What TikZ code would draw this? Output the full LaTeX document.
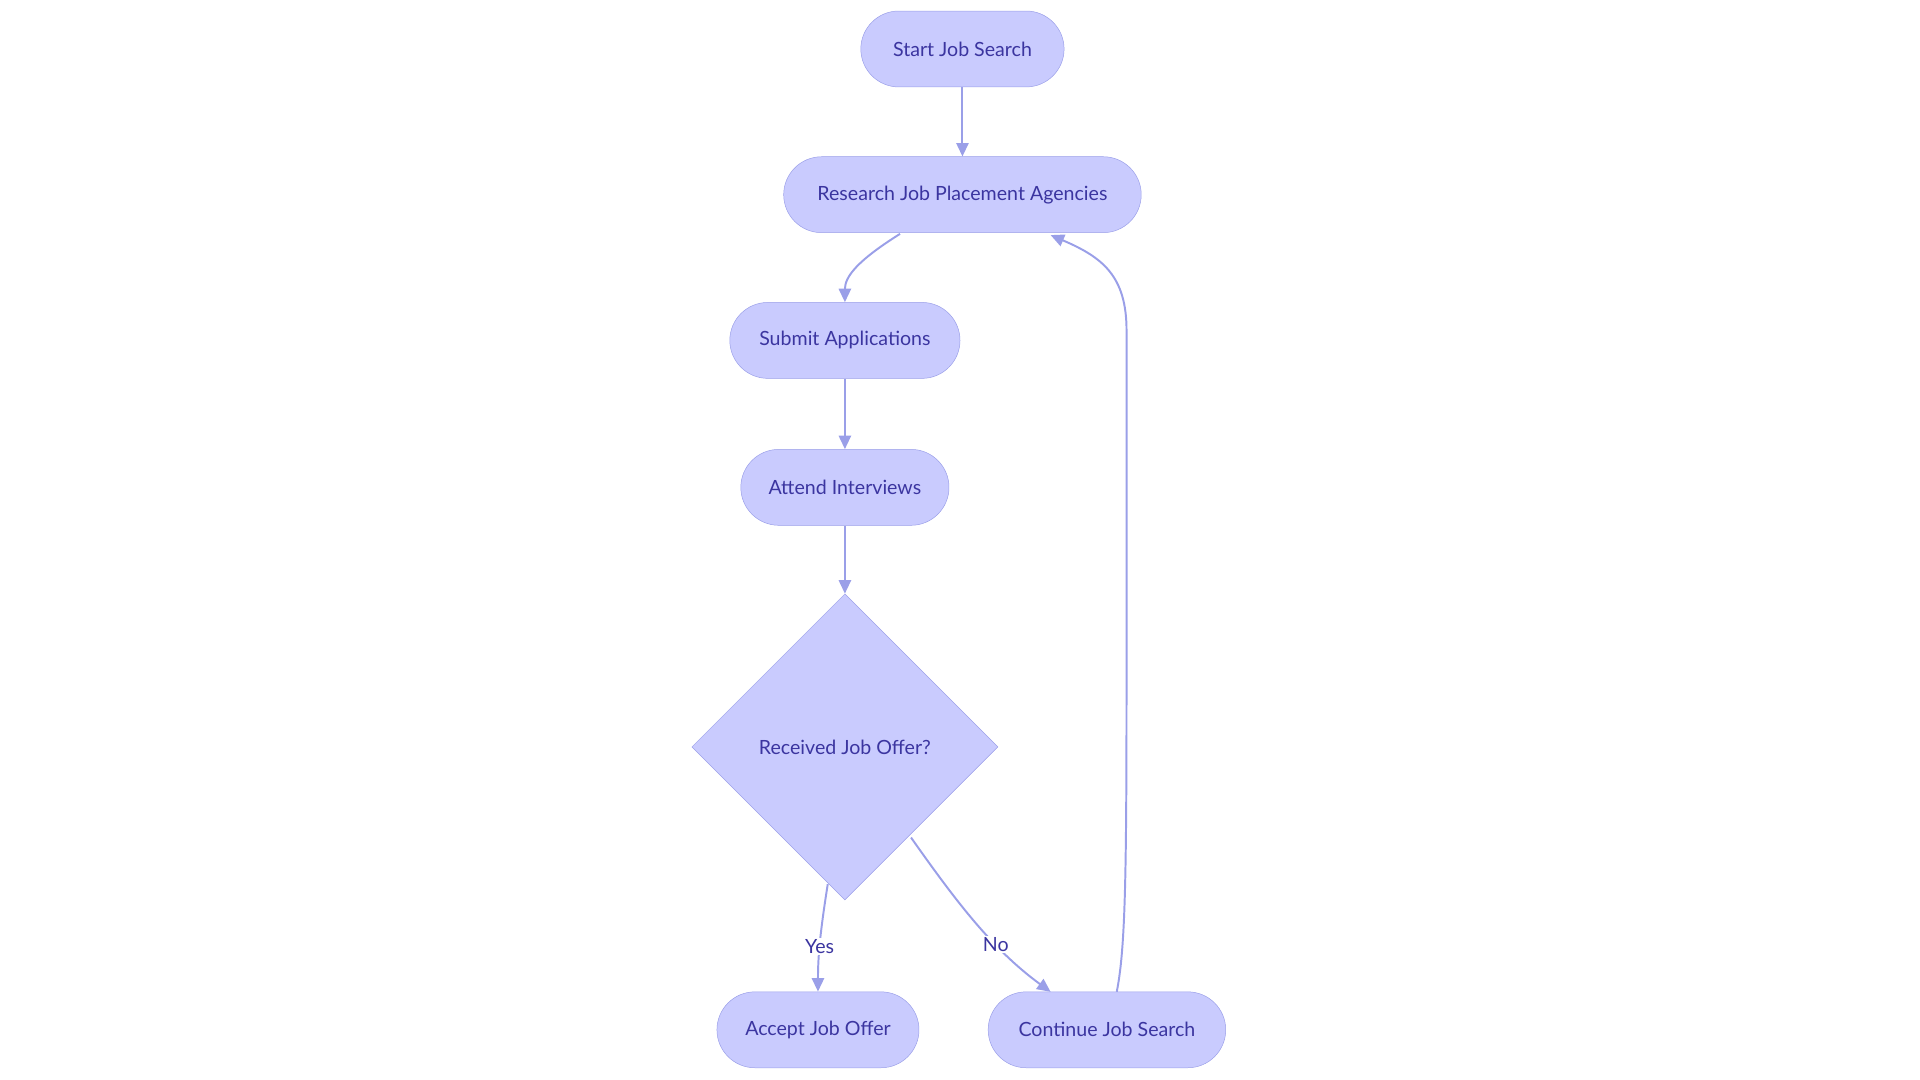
\documentclass[tikz,border=0pt]{standalone}
\usepackage{fontspec}
\setmainfont{Lato}
\usetikzlibrary{shapes.geometric,arrows.meta}
\definecolor{fillc}{HTML}{C9CBFE}
\definecolor{linec}{HTML}{9A9FE8}
\definecolor{textc}{HTML}{3B35A0}
\begin{document}
\begin{tikzpicture}[x=1pt,y=-1pt,
  box/.style={draw=linec,fill=fillc,rounded corners=31pt,minimum height=62pt,text=textc,font=\fontsize{16}{18}\selectfont,inner sep=0pt},
  dia/.style={draw=linec,fill=fillc,diamond,minimum width=250pt,minimum height=250pt,text=textc,font=\fontsize{16}{18}\selectfont,inner sep=0pt},
  arr/.style={draw=linec,line width=1.6pt,-{Triangle[length=11pt,width=10pt]}},
  lab/.style={fill=white,text=textc,font=\fontsize{16}{18}\selectfont,inner sep=1pt}]
\useasboundingbox (0,0) rectangle (1568,882);
\node[box,minimum width=166pt] (start) at (786,40) {Start Job Search};
\node[box,minimum width=292pt] (res) at (786,159) {Research Job Placement Agencies};
\node[box,minimum width=188pt] (sub) at (690,278) {Submit Applications};
\node[box,minimum width=170pt] (att) at (690,398) {Attend Interviews};
\node[dia] (dec) at (690,610) {Received Job Offer?};
\node[box,minimum width=165pt] (acc) at (668,841) {Accept Job Offer};
\node[box,minimum width=194pt] (con) at (904,841) {Continue Job Search};
\coordinate (r1) at (735,191);
\coordinate (l1) at (912,810);
\coordinate (l2) at (858,192);
\coordinate (y1) at (676,722);
\coordinate (n1) at (744,684);
\draw[arr] (start) -- (res);
\draw[arr] (r1) .. controls (700,213) and (690,226) .. (sub.north);
\draw[arr] (sub) -- (att);
\draw[arr] (att) -- (dec.north);
\draw[arr] (y1) .. controls (670,760) and (668,780) .. node[lab,pos=0.55]{Yes} (acc.north);
\draw[arr] (n1) .. controls (780,735) and (810,775) .. node[lab,pos=0.65]{No} (858,810);
\draw[arr] (l1) .. controls (920,770) and (920,700) .. (920,500) -- (920,270) .. controls (920,225) and (900,210) .. (l2);
\end{tikzpicture}
\end{document}
